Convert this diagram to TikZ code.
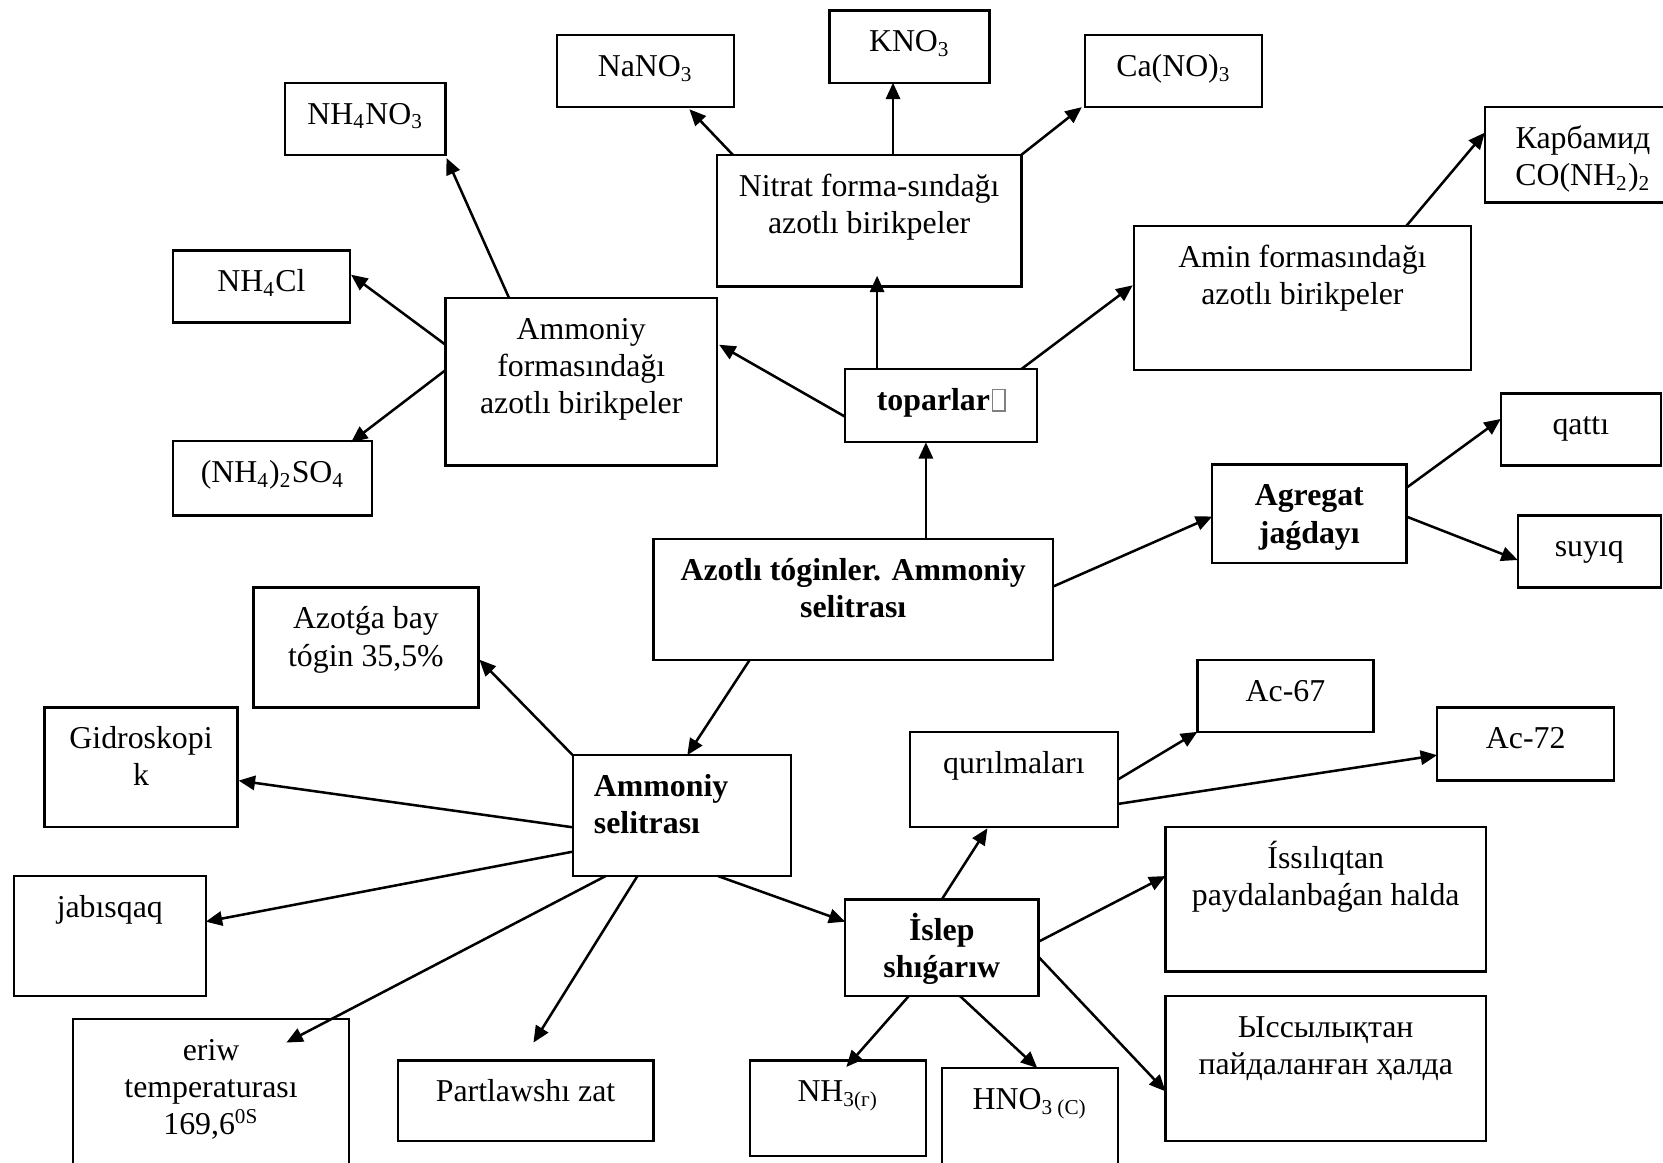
\documentclass[tikz,border=0pt]{standalone}
\usepackage{fontspec}
\setmainfont{Liberation Serif}
\usetikzlibrary{arrows.meta}

% framed empty glyph box printed after "toparlar"
\newcommand\tofubox{\kern0.6pt{\color{black!50}\fboxsep=0pt\fboxrule=0.45pt\fbox{\rule{0pt}{7.6pt}\hspace{4.4pt}}}}

% \bx[alignment]{name}{x1}{y1}{x2}{y2}{text}: framed box, text set from the top
\newcommand\bx[7][\centering]{%
  \node[box, anchor=north west] (#2) at (#3,#4)
    {\parbox[t][\dimexpr 0.4pt*#6-0.4pt*#4\relax][t]{\dimexpr 0.4pt*#5-0.4pt*#3\relax}%
      {#1\rule{0pt}{15.6pt}#7}};}

\tikzset{
  box/.style={draw, line width=0.9pt, inner sep=0pt, outer sep=0pt,
    font=\fontsize{12}{14}\selectfont},
  link/.style={line width=0.95pt, -{Triangle[length=6.2pt,width=5.4pt]}}
}

\begin{document}
\begin{tikzpicture}[x=0.4pt, y=-0.4pt]
\fill[white] (0,0) rectangle (1568,1096);
\useasboundingbox (0,0) rectangle (1568,1096);

% upper groups
\bx{nano}{525}{33}{692}{101}{NaNO\textsubscript{3}}
\bx{kno}{782}{10}{933}{78}{KNO\textsubscript{3}}
\bx{cano}{1023}{33}{1190}{101}{Ca(NO)\textsubscript{3}}
\bx{nhno}{269}{78}{420}{146}{NH\textsubscript{4}NO\textsubscript{3}}
\bx{nitrat}{676}{146}{963}{270}{Nitrat forma-sındağı\\azotlı birikpeler}
\bx{karb}{1400}{101}{1585}{191}{Карбамид\\CO(NH\textsubscript{2})\textsubscript{2}}
\bx{amin}{1069}{213}{1387}{349}{Amin formasındağı\\azotlı birikpeler}
\bx{nhcl}{163}{236}{330}{304}{NH\textsubscript{4}Cl}
\bx{amform}{420}{281}{676}{439}{Ammoniy\\formasındağı\\azotlı birikpeler}
\bx{topar}{797}{348}{978}{417}{\bfseries toparlar\tofubox}
\bx{nhso}{163}{416}{351}{486}{(NH\textsubscript{4})\textsubscript{2}SO\textsubscript{4}}
\bx{qatti}{1415}{371}{1566}{439}{qattı}
\bx{agreg}{1143}{438}{1326}{531}{\bfseries Agregat\\jaǵdayı}
\bx{suyiq}{1431}{486}{1566}{554}{suyıq}

% central box
\bx{main}{616}{508}{993}{622}{\bfseries Azotlı tóginler. Ammoniy\\selitrası}

% lower groups
\bx{bay}{239}{554}{451}{667}{Azotǵa bay\\tógin 35,5\%}
\bx{gidro}{42}{667}{224}{780}{Gidroskopi\\k}
\bx{ac67}{1129}{622}{1295}{690}{Ac-67}
\bx{ac72}{1355}{667}{1522}{736}{Ac-72}
\bx{quril}{858}{690}{1054}{780}{qurılmaları}
\bx[\raggedright\leftskip=8pt]{amsel}{540}{712}{746}{826}{\bfseries Ammoniy\\selitrası}
\bx{jabis}{13}{826}{194}{939}{jabısqaq}
\bx{issil}{1099}{780}{1401}{916}{Íssılıqtan\\paydalanbaǵan halda}
\bx{islep}{797}{848}{979}{939}{\bfseries İslep\\shıǵarıw}
\bx{eriw}{69}{961}{329}{1110}{eriw\\temperaturası\\169,6\textsuperscript{0S}}
\bx{partl}{375}{1000}{616}{1076}{Partlawshı zat}
\bx{nh3}{707}{1000}{873}{1090}{NH\textsubscript{3(г)}}
\bx{hno3}{888}{1007}{1054}{1110}{HNO\textsubscript{3 (С)}}
\bx{yssyl}{1099}{939}{1401}{1076}{Ыссылықтан\\пайдаланған ҳалда}

% connectors
\draw[link] ([shift={(15,0)}]nitrat.north west) -- ([shift={(125,70)}]nano.north west);
\draw[link] ([shift={(166,0)}]nitrat.north west) -- ([shift={(60,68)}]kno.north west);
\draw[link] ([shift={(287,0)}]nitrat.north west) -- ([shift={(-3,68)}]cano.north west);
\draw[link] ([shift={(60,0)}]amform.north west) -- ([shift={(152,71)}]nhno.north west);
\draw[link] ([shift={(0,44)}]amform.north west) -- ([shift={(168,23)}]nhcl.north west);
\draw[link] ([shift={(0,68)}]amform.north west) -- ([shift={(168,1)}]nhso.north west);
\draw[link] ([shift={(0,45)}]topar.north west) -- ([shift={(258,44)}]amform.north west);
\draw[link] ([shift={(30,0)}]topar.north west) -- ([shift={(151,114)}]nitrat.north west);
\draw[link] ([shift={(166,0)}]topar.north west) -- ([shift={(-1,56)}]amin.north west);
\draw[link] ([shift={(257,0)}]main.north west) -- ([shift={(76,69)}]topar.north west);
\draw[link] ([shift={(377,45)}]main.north west) -- ([shift={(0,49)}]agreg.north west);
\draw[link] ([shift={(183,22)}]agreg.north west) -- ([shift={(0,24)}]qatti.north west);
\draw[link] ([shift={(183,49)}]agreg.north west) -- ([shift={(0,42)}]suyiq.north west);
\draw[link] ([shift={(257,0)}]amin.north west) -- ([shift={(0,24)}]karb.north west);
\draw[link] ([shift={(91,114)}]main.north west) -- ([shift={(108,0)}]amsel.north west);
\draw[link] (amsel.north west) -- ([shift={(213,68)}]bay.north west);
\draw[link] ([shift={(0,68)}]amsel.north west) -- ([shift={(183,69)}]gidro.north west);
\draw[link] ([shift={(0,91)}]amsel.north west) -- ([shift={(181,43)}]jabis.north west);
\draw[link] ([shift={(31,114)}]amsel.north west) -- ([shift={(201,22)}]eriw.north west);
\draw[link] ([shift={(61,114)}]amsel.north west) -- ([shift={(128,-17)}]partl.north west);
\draw[link] ([shift={(137,114)}]amsel.north west) -- ([shift={(0,21)}]islep.north west);
\draw[link] ([shift={(91,0)}]islep.north west) -- ([shift={(73,91)}]quril.north west);
\draw[link] ([shift={(196,45)}]quril.north west) -- ([shift={(0,68)}]ac67.north west);
\draw[link] ([shift={(196,68)}]quril.north west) -- ([shift={(0,45)}]ac72.north west);
\draw[link] ([shift={(182,40)}]islep.north west) -- ([shift={(0,46)}]issil.north west);
\draw[link] ([shift={(182,54)}]islep.north west) -- ([shift={(0,90)}]yssyl.north west);
\draw[link] ([shift={(60,91)}]islep.north west) -- ([shift={(91,6)}]nh3.north west);
\draw[link] ([shift={(108,91)}]islep.north west) -- ([shift={(90,0)}]hno3.north west);
\end{tikzpicture}
\end{document}
